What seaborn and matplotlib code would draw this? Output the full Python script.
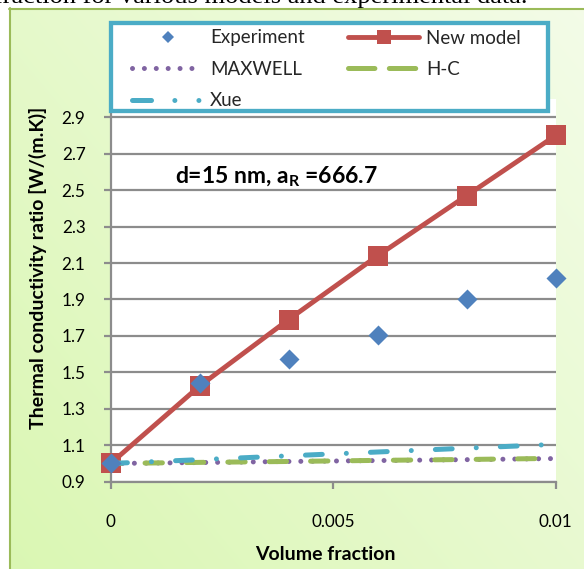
import numpy as np
import pandas as pd
import matplotlib
matplotlib.use("Agg")
import matplotlib.pyplot as plt
import seaborn as sns
from matplotlib.lines import Line2D
from matplotlib.patches import Rectangle

# ---------------- data ----------------
volume_fraction = [0.0, 0.002, 0.004, 0.006, 0.008, 0.010]
experiment = [1.00, 1.44, 1.575, 1.705, 1.90, 2.02]
new_model = [1.00, 1.425, 1.79, 2.14, 2.47, 2.80]
maxwell = [1.000, 1.005, 1.011, 1.016, 1.021, 1.027]
hc = [1.000, 1.006, 1.011, 1.017, 1.022, 1.028]
xue = [1.000, 1.021, 1.042, 1.063, 1.084, 1.105]

y_ticks = [0.9, 1.1, 1.3, 1.5, 1.7, 1.9, 2.1, 2.3, 2.5, 2.7, 2.9]
y_tick_labels = ["0.9", "1.1", "1.3", "1.5", "1.7", "1.9", "2.1", "2.3", "2.5", "2.7", "2.9"]
x_ticks = [0.0, 0.005, 0.01]
x_tick_labels = ["0", "0.005", "0.01"]
series_names = ["Experiment", "New model", "MAXWELL", "H-C", "Xue"]

# ---------------- style ----------------
sns.set_theme(style="ticks")
plt.rcParams["font.family"] = ["Lato", "DejaVu Sans"]
plt.rcParams["lines.scale_dashes"] = False
plt.rcParams["mathtext.fontset"] = "custom"
plt.rcParams["mathtext.rm"] = "Lato:bold"
plt.rcParams["mathtext.it"] = "Lato:bold"
plt.rcParams["mathtext.bf"] = "Lato:bold"

C_EXP = "#4f81bd"
C_NEW = "#c0504d"
C_MAX = "#8064a2"
C_HC = "#9bbb59"
C_XUE = "#4bacc6"
GRID = "#8c8c8c"

W, H = 584, 569
fig = plt.figure(figsize=(W / 100, H / 100), dpi=100)

# background gradient with border
bg = fig.add_axes([0, 0, 1, 1], zorder=-10)
bg.set_axis_off()
xx, yy = np.meshgrid(np.arange(W), np.arange(H))
f = 0.55 * (xx / W) + 0.45 * (1 - yy / H)
dark = np.array([0.855, 0.968, 0.70])
light = np.array([0.955, 0.988, 0.91])
img = dark[None, None, :] + f[..., None] * (light - dark)[None, None, :]
img[(xx < 9) | (yy < 8)] = 1.0
bg.imshow(img, extent=(0, W, H, 0), aspect="auto", interpolation="bilinear")
bg.plot([9.5, 9.5], [8, H], color=C_HC, lw=1.5)
bg.plot([9, W], [8.5, 8.5], color=C_HC, lw=1.5)
bg.set_xlim(0, W)
bg.set_ylim(H, 0)

fig.text(528 / W, 1 - 3.0 / H, "fraction for various models and experimental data.",
         ha="right", va="baseline", fontsize=19, color="black",
         family=["Liberation Serif", "DejaVu Serif"])

# main axes
ax = fig.add_axes([110.6 / W, (H - 481.7) / H, (555.7 - 110.6) / W, (481.7 - 99) / H], zorder=1)
ax.set_facecolor("white")

sns.lineplot(x=volume_fraction, y=new_model, ax=ax, color=C_NEW, lw=3.5,
             marker="s", markersize=14, markeredgewidth=0, markerfacecolor=C_NEW,
             solid_capstyle="round", zorder=3, clip_on=False)
sns.lineplot(x=volume_fraction, y=maxwell, ax=ax, color=C_MAX, lw=3.6,
             linestyle=(0, (0.01, 8.55)), dash_capstyle="round", zorder=4)
sns.lineplot(x=volume_fraction, y=hc, ax=ax, color=C_HC, lw=3.6,
             linestyle=(5, (12.5, 17.3)), dash_capstyle="round", zorder=4)
sns.lineplot(x=volume_fraction, y=xue, ax=ax, color=C_XUE, lw=3.6,
             linestyle=(0, (12.1, 17.35, 0.01, 17.35)), dash_capstyle="round", zorder=4)
sns.scatterplot(x=volume_fraction, y=experiment, ax=ax, marker="D", s=104,
                color=C_EXP, linewidth=0, zorder=6, clip_on=False)

ax.set_xlim(0, 0.01)
ax.set_ylim(0.9, 3.0)
ax.set_yticks(y_ticks, y_tick_labels)
ax.set_xticks(x_ticks, x_tick_labels)
ax.yaxis.grid(True, color=GRID, lw=1.6)
ax.xaxis.grid(False)
ax.set_axisbelow(True)
for s in ["top", "right"]:
    ax.spines[s].set_visible(False)
for s in ["left", "bottom"]:
    ax.spines[s].set_color(GRID)
    ax.spines[s].set_linewidth(1.6)
ax.tick_params(axis="both", direction="out", length=5, width=1.6, color=GRID,
               labelsize=12.3, labelcolor="black", left=True, bottom=True)
ax.tick_params(axis="y", pad=13)
ax.tick_params(axis="x", pad=18)

ax.set_xlabel("Volume fraction", fontsize=14, fontweight="bold", color="black")
ax.xaxis.set_label_coords(325 / W, 1 - 555 / H, transform=fig.transFigure)
ax.xaxis.label.set_va("center")
ax.set_ylabel("Thermal conductivity ratio [W/(m.K)]", fontsize=14, fontweight="bold",
              color="black")
ax.yaxis.set_label_coords(38 / W, 1 - 268 / H, transform=fig.transFigure)
ax.yaxis.label.set_va("center")
ax.yaxis.label.set_rotation_mode("default")

ax.text(0.00145, 2.575, r"d=15 nm, a$_{\mathrm{R}}$ =666.7", fontsize=16.5,
        fontweight="bold", va="center", ha="left", color="black", zorder=7)

# legend box + legend
rect = Rectangle((111.2 / W, 1 - 110.8 / H), (548.2 - 111.2) / W, (110.8 - 22.8) / H,
                 transform=fig.transFigure, facecolor="white", edgecolor=C_XUE,
                 lw=3.1, zorder=2)
fig.add_artist(rect)

h_exp = Line2D([], [], ls="none", marker="D", markersize=6, color=C_EXP, markeredgewidth=0)
h_new = Line2D([], [], color=C_NEW, lw=3.5, marker="s", markersize=10, markeredgewidth=0)
h_max = Line2D([], [], color=C_MAX, lw=3.6, ls=(0, (0.01, 8.55)), dash_capstyle="round")
h_hc = Line2D([], [], color=C_HC, lw=3.6, ls=(0, (19, 10.4)), dash_capstyle="round")
h_xue = Line2D([], [], color=C_XUE, lw=3.6, ls=(0, (13.7, 16.8, 0.01, 17.3, 0.01, 30)),
               dash_capstyle="round")
handles = [h_exp, h_max, h_xue, h_new, h_hc]
labels = [series_names[0], series_names[2], series_names[4], series_names[1], series_names[3]]
leg = fig.legend(handles, labels, loc="upper left", bbox_to_anchor=(132 / W, 1 - 29.5 / H),
                 ncol=2, frameon=False, borderpad=0, borderaxespad=0, handlelength=3.8,
                 handletextpad=0.37, columnspacing=2.3, labelspacing=0.77, fontsize=13.5)
leg.set_zorder(3)

fig.savefig("out.png", dpi=100)
